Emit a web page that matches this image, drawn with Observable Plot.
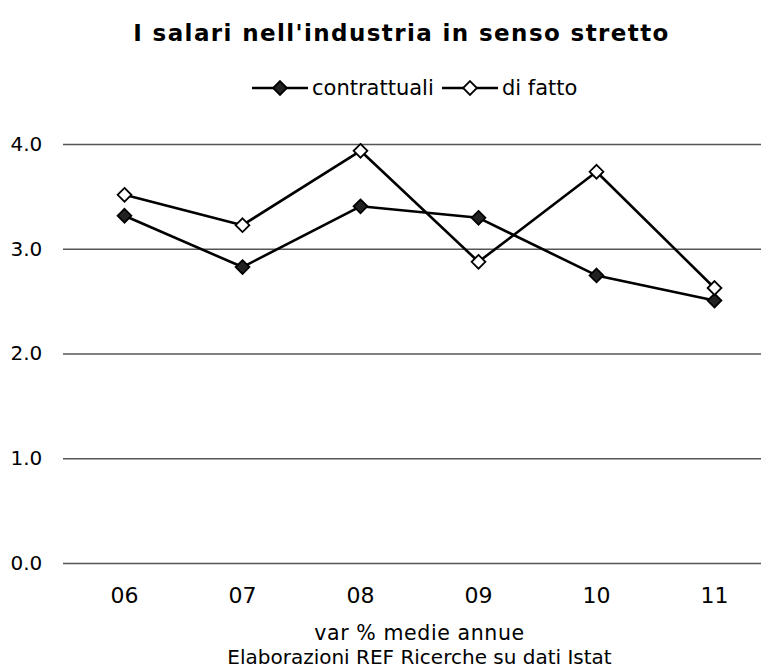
<!DOCTYPE html>
<html>
<head>
<meta charset="utf-8">
<script src="https://cdn.jsdelivr.net/npm/d3@7"></script>
<script src="https://cdn.jsdelivr.net/npm/@observablehq/plot@0.6"></script>
<style>
  body { margin: 0; background: #fff; font-family: "DejaVu Sans", Verdana, sans-serif; }
  #wrap { position: relative; width: 761px; height: 670px; }
  #legend { position: absolute; left: 0; top: 0; }
  .title-text text { letter-spacing: 1.4px; }
  .cap1 text { letter-spacing: 0.6px; }
</style>
</head>
<body>
<div id="wrap"></div>
<script>
const years = ["06", "07", "08", "09", "10", "11"];
const contrattuali = [3.32, 2.83, 3.41, 3.30, 2.75, 2.51];
const diFatto = [3.52, 3.23, 3.94, 2.88, 3.74, 2.63];
const yTicks = [0, 1, 2, 3, 4];
const seriesNames = ["contrattuali", "di fatto"];
const title = "I salari nell'industria in senso stretto";
const captions = ["var % medie annue", "Elaborazioni REF Ricerche su dati Istat"];

const rows = [
  ...years.map((y, i) => ({year: y, value: contrattuali[i], series: seriesNames[0]})),
  ...years.map((y, i) => ({year: y, value: diFatto[i], series: seriesNames[1]}))
];
const fillOf = s => s === seriesNames[0] ? "#222" : "#fff";

const chart = Plot.plot({
  width: 761,
  height: 670,
  marginTop: 144,
  marginBottom: 107,
  marginLeft: 63,
  marginRight: 0,
  style: {fontFamily: "DejaVu Sans, Verdana, sans-serif", fontSize: "20px", color: "#000", background: "#fff"},
  x: {type: "point", domain: years, range: [124, 714], padding: 0},
  y: {domain: [0, 4], range: [563, 144]},
  marks: [
    Plot.ruleY(yTicks, {stroke: "#555", strokeWidth: 1.3}),
    Plot.axisY(yTicks, {tickSize: 0, tickPadding: 53, textAnchor: "start", tickFormat: d => d.toFixed(1), fontSize: 20, label: null}),
    Plot.axisX({tickSize: 0, tickPadding: 24, fontSize: 22, label: null}),
    Plot.line(rows, {x: "year", y: "value", z: "series", stroke: "#000", strokeWidth: 2.6}),
    Plot.dot(rows, {x: "year", y: "value", symbol: "diamond2", r: 6.2, fill: d => fillOf(d.series), stroke: "#000", strokeWidth: 1.8}),
    Plot.text([title], {frameAnchor: "top", dy: -111, dx: -11, lineAnchor: "middle", fontSize: 23, fontWeight: "bold", className: "title-text"}),
    Plot.text([captions[0]], {frameAnchor: "bottom", dy: 70, dx: 7, lineAnchor: "middle", fontSize: 20.5, className: "cap1"}),
    Plot.text([captions[1]], {frameAnchor: "bottom", dy: 94, dx: 7, lineAnchor: "middle", fontSize: 20})
  ]
});
document.getElementById("wrap").appendChild(chart);

// Legend overlay
const leg = d3.select("#wrap").append("svg")
  .attr("id", "legend").attr("width", 761).attr("height", 120)
  .style("font-family", "DejaVu Sans, Verdana, sans-serif").style("font-size", "21px");
const diamond = d3.symbol(d3.symbolDiamond2, Math.PI * 6.2 * 6.2)();
const items = [
  {name: seriesNames[0], x0: 252, fill: "#222"},
  {name: seriesNames[1], x0: 442, fill: "#fff"}
];
const ly = 88;
items.forEach(it => {
  leg.append("line").attr("x1", it.x0).attr("x2", it.x0 + 56).attr("y1", ly).attr("y2", ly)
    .attr("stroke", "#000").attr("stroke-width", 2.6);
  leg.append("path").attr("d", diamond).attr("transform", `translate(${it.x0 + 28},${ly})`)
    .attr("fill", it.fill).attr("stroke", "#000").attr("stroke-width", 1.8);
  leg.append("text").attr("x", it.x0 + 60).attr("y", ly).attr("dy", "0.35em").text(it.name);
});
</script>
</body>
</html>
